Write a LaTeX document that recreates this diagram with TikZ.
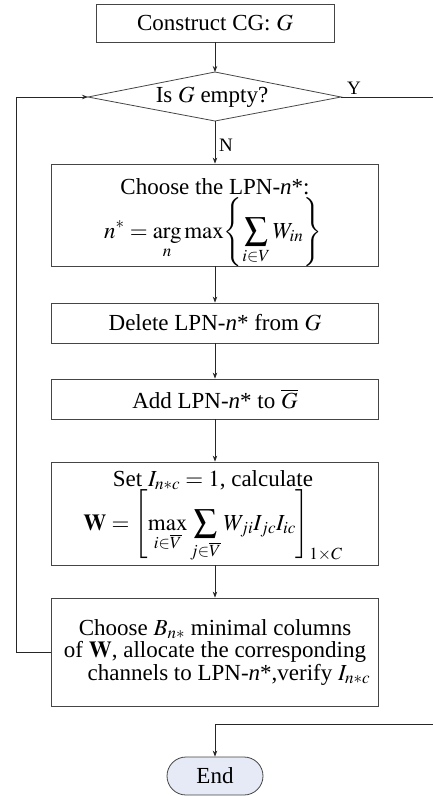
\documentclass[tikz,border=0pt]{standalone}
\usepackage{amsmath}
\usepackage{mathptmx}
\usepackage{fontspec}
\setmainfont{Liberation Serif}
\usetikzlibrary{arrows.meta}
\definecolor{endfill}{HTML}{E6EAF6}
\definecolor{edge}{HTML}{454545}
\begin{document}
\begin{tikzpicture}[x=1pt,y=-1pt,
  every node/.style={font=\fontsize{23}{24}\selectfont, inner sep=0pt},
  box/.style={draw=edge, line width=0.8pt, minimum width=327pt, align=center},
  conn/.style={draw=black!85, line width=0.8pt},
  arr/.style={conn, -{Stealth[length=6pt,width=4.5pt]}},
  lbl/.style={font=\fontsize{19}{20}\selectfont},
  txt/.style={anchor=base}]
\useasboundingbox (0,0) rectangle (433,796);
% boxes
\node[box, minimum width=238pt, minimum height=38pt] (b1) at (215,23) {Construct CG: $G$};
\coordinate (dtop) at (215,72);
\coordinate (dleft) at (88,97);
\coordinate (dright) at (341,97);
\coordinate (dbot) at (215,121);
\draw[draw=edge, line width=0.8pt] (dtop) -- (dright) -- (dbot) -- (dleft) -- cycle;
\node (dtext) at (212,97) {Is $G$ empty?};
\node[box, minimum height=102pt] (b2) at (215,215) {};
\node[txt] (t2a) at (215,194) {Choose the LPN-\textit{n}*:};
\node[txt] (t2b) at (213,238)
  {$\displaystyle n^{*} = \mathop{\mathrm{arg}}\limits_{n}\max \Biggl\{ \sum_{i\in V} W_{in} \Biggr\}$};
\node[box, minimum height=40pt] (b3) at (215,323) {Delete LPN-\textit{n}* from $G$};
\node[box, minimum height=40pt] (b4) at (215,399) {Add LPN-\textit{n}* to $\overline{G}$};
\node[box, minimum height=103pt] (b5) at (215,513.5) {};
\node[txt] (t5a) at (213,486) {Set $I_{n{*}c}=1$, calculate};
\node[txt] (t5b) at (213,530)
  {$\displaystyle \mathbf{W} = \Biggl[ \max_{i\in\overline{V}} \sum_{j\in\overline{V}} W_{ji} I_{jc} I_{ic} \Biggr]_{1\times C}$};
\node[box, minimum height=108pt, font=\fontsize{23}{22.5}\selectfont] (b6) at (215,652)
  {Choose $B_{n{*}}$ minimal columns\\
   of $\mathbf{W}$, allocate the corresponding\\
   \hspace*{28pt}channels to LPN-\textit{n}*,verify $I_{n{*}c}$};
\node[draw=edge, line width=0.8pt, fill=endfill, rounded corners=19pt,
      minimum width=96pt, minimum height=38pt] (end) at (215,776) {End};
% connectors
\draw[arr] (b1.south) -- (dtop);
\draw[arr] (dbot) -- (b2.north);
\draw[arr] (b2.south) -- (b3.north);
\draw[arr] (b3.south) -- (b4.north);
\draw[arr] (b4.south) -- (b5.north);
\draw[arr] (b5.south) -- (b6.north);
\coordinate (lc) at (16,652);
\draw[arr] (b6.west) -- (lc) |- (dleft);
\coordinate (ry) at (434,97);
\draw[conn] (dright) -- (ry);
\coordinate (rb) at (434,724);
\draw[arr] (rb) -| (end.north);
\node[lbl] (ylab) at (354,88) {Y};
\node[lbl] (nlab) at (226,145) {N};
\end{tikzpicture}
\end{document}
